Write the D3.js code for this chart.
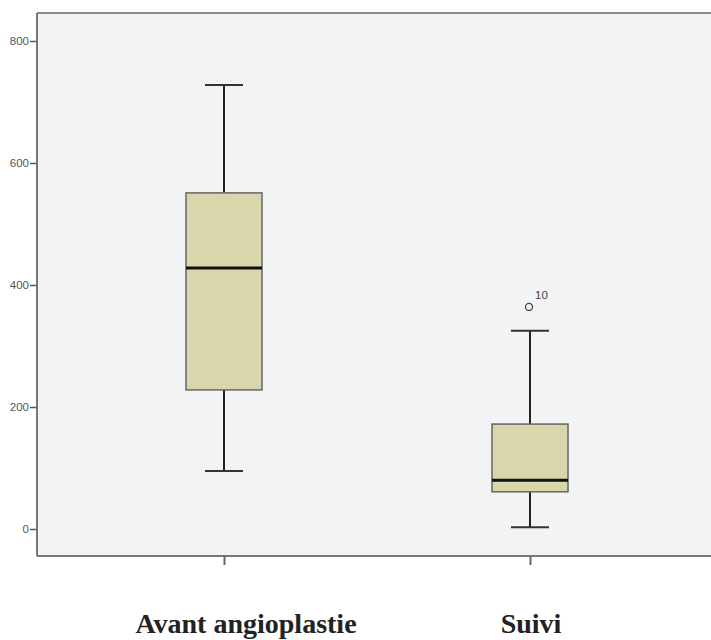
<!DOCTYPE html>
<html><head><meta charset="utf-8">
<script src="https://cdn.jsdelivr.net/npm/d3@7"></script>
<style>body{margin:0;background:#fff}</style>
</head><body><svg id="c" width="711" height="640"></svg>
<script>
const categories = ["Avant angioplastie", "Suivi"];
const whiskerLow = [95, 3];
const q1 = [228, 61];
const median = [428, 80];
const q3 = [551, 172];
const whiskerHigh = [728, 325];
const outliers = [[], [{value: 364, label: "10"}]];
const yTicks = [0, 200, 400, 600, 800];

const svg = d3.select("#c");
const pLeft = 37, pTop = 13, pRight = 711, pBottom = 556;
const y = d3.scaleLinear().domain([0, 800]).range([529, 41]);
const x = d3.scalePoint().domain(categories).range([224, 530]);
const boxW = 76, capW = 38;

svg.append("rect").attr("x", pLeft).attr("y", pTop).attr("width", pRight - pLeft).attr("height", pBottom - pTop)
  .attr("fill", "#f1f3f5");
svg.append("line").attr("x1", pLeft).attr("x2", pRight).attr("y1", pTop).attr("y2", pTop).attr("stroke", "#8a8a8a").attr("stroke-width", 2);
svg.append("line").attr("x1", pLeft).attr("x2", pRight).attr("y1", pBottom).attr("y2", pBottom).attr("stroke", "#777").attr("stroke-width", 2);
svg.append("line").attr("x1", pLeft).attr("x2", pLeft).attr("y1", pTop).attr("y2", pBottom).attr("stroke", "#777").attr("stroke-width", 2);

const yAxis = svg.append("g").attr("transform", `translate(${pLeft - 1},0)`).attr("color", "#555")
  .call(d3.axisLeft(y).tickValues(yTicks).tickSize(6).tickPadding(1));
yAxis.select(".domain").remove();
yAxis.selectAll("line").attr("stroke", "#555").attr("stroke-width", 1.5);
yAxis.selectAll("text").attr("font-family", "Arial, Liberation Sans, sans-serif").attr("font-size", 11.5).attr("fill", "#555");

const xAxis = svg.append("g").attr("transform", `translate(0,${pBottom})`).attr("color", "#666")
  .call(d3.axisBottom(x).tickSize(9).tickFormat(""));
xAxis.select(".domain").remove();
xAxis.selectAll("line").attr("stroke", "#666").attr("stroke-width", 2);

categories.forEach((c, i) => {
  const cx = x(c);
  const g = svg.append("g");
  g.append("line").attr("x1", cx).attr("x2", cx).attr("y1", y(whiskerHigh[i])).attr("y2", y(q3[i])).attr("stroke", "#222").attr("stroke-width", 2);
  g.append("line").attr("x1", cx).attr("x2", cx).attr("y1", y(q1[i])).attr("y2", y(whiskerLow[i])).attr("stroke", "#222").attr("stroke-width", 2);
  g.append("line").attr("x1", cx - capW / 2).attr("x2", cx + capW / 2).attr("y1", y(whiskerHigh[i])).attr("y2", y(whiskerHigh[i])).attr("stroke", "#333").attr("stroke-width", 2);
  g.append("line").attr("x1", cx - capW / 2).attr("x2", cx + capW / 2).attr("y1", y(whiskerLow[i])).attr("y2", y(whiskerLow[i])).attr("stroke", "#333").attr("stroke-width", 2);
  g.append("rect").attr("x", cx - boxW / 2).attr("y", y(q3[i])).attr("width", boxW).attr("height", y(q1[i]) - y(q3[i]))
    .attr("fill", "#dad6ab").attr("stroke", "#666").attr("stroke-width", 1.5);
  g.append("line").attr("x1", cx - boxW / 2).attr("x2", cx + boxW / 2).attr("y1", y(median[i])).attr("y2", y(median[i])).attr("stroke", "#111").attr("stroke-width", 3);
  outliers[i].forEach(o => {
    g.append("circle").attr("cx", cx - 1).attr("cy", y(o.value)).attr("r", 3.5).attr("fill", "none").attr("stroke", "#444").attr("stroke-width", 1.3);
    g.append("text").attr("x", cx + 5).attr("y", y(o.value) - 8).attr("font-family", "Arial, Liberation Sans, sans-serif")
      .attr("font-size", 11.5).attr("fill", "#444").text(o.label);
  });
});

const labelX = [246, 531];
categories.forEach((c, i) => {
  svg.append("text").attr("x", labelX[i]).attr("y", 633).attr("text-anchor", "middle")
    .attr("font-family", "Liberation Serif, Times New Roman, serif").attr("font-weight", "bold").attr("font-size", 28)
    .attr("fill", "#222").text(c);
});
</script></body></html>
